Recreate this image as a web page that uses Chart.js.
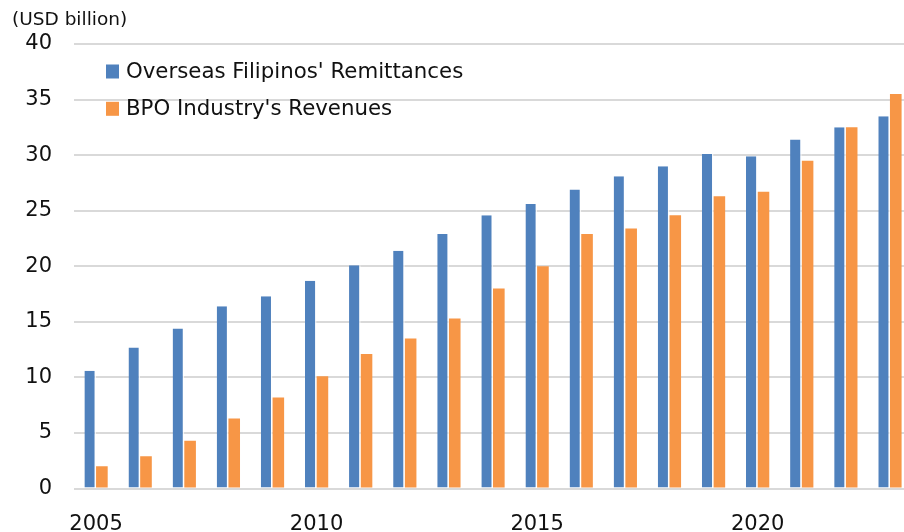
<!DOCTYPE html>
<html>
<head>
<meta charset="utf-8">
<script src="https://cdn.jsdelivr.net/npm/chart.js@4.4.1/dist/chart.umd.min.js"></script>
<style>
  html, body { margin: 0; padding: 0; overflow: hidden; background: #fff; width: 904px; height: 532px; }
  #wrap { position: absolute; left: 0; top: 0; width: 920px; height: 532px; }
</style>
</head>
<body>
<div id="wrap"><canvas id="c" width="920" height="532"></canvas></div>
<script>
const years = ['2005','2006','2007','2008','2009','2010','2011','2012','2013','2014','2015','2016','2017','2018','2019','2020','2021','2022','2023'];
const shownYearLabels = ['2005','2010','2015','2020'];
const remittances = [10.6, 12.7, 14.4, 16.4, 17.3, 18.7, 20.1, 21.4, 22.9, 24.6, 25.6, 26.9, 28.1, 29.0, 30.1, 29.9, 31.4, 32.5, 33.5];
const bpoRevenues = [2.0, 2.9, 4.3, 6.3, 8.2, 10.1, 12.1, 13.5, 15.3, 18.0, 20.0, 22.9, 23.4, 24.6, 26.3, 26.7, 29.5, 32.5, 35.5];
const yTicks = [0, 5, 10, 15, 20, 25, 30, 35, 40];
const seriesNames = ["Overseas Filipinos' Remittances", "BPO Industry's Revenues"];
const unitLabel = '(USD billion)';

const FONT = "'DejaVu Sans', Verdana, sans-serif";

const legendPlugin = {
  id: 'insideLegend',
  afterDraw(chart) {
    const ctx = chart.ctx;
    ctx.save();
    ctx.font = '21.3px ' + FONT;
    ctx.textBaseline = 'middle';
    ctx.textAlign = 'left';
    const rows = [71.5, 108.8];
    chart.data.datasets.forEach((ds, i) => {
      const y = rows[i];
      ctx.fillStyle = ds.backgroundColor;
      ctx.fillRect(106, y - 7, 13, 14);
      ctx.fillStyle = '#111';
      ctx.fillText(ds.label, 126, y + 1);
    });
    ctx.restore();
  }
};

new Chart(document.getElementById('c'), {
  type: 'bar',
  data: {
    labels: years,
    datasets: [
      { label: seriesNames[0], data: remittances, backgroundColor: '#4F81BD', borderColor: 'rgba(255,255,255,0.75)', borderWidth: {top:0, left:0, right:1.5, bottom:0}, borderSkipped: 'bottom' },
      { label: seriesNames[1], data: bpoRevenues, backgroundColor: '#F79646', borderWidth: 0 }
    ]
  },
  options: {
    responsive: false,
    animation: false,
    devicePixelRatio: 1,
    layout: { padding: { left: 12, right: 8, top: 0, bottom: 0 } },
    datasets: { bar: { categoryPercentage: 0.528, barPercentage: 1.0 } },
    plugins: {
      legend: { display: false },
      tooltip: { enabled: false },
      title: {
        display: true,
        text: unitLabel,
        align: 'start',
        color: '#111',
        font: { family: FONT, size: 18.5, weight: 'normal', lineHeight: 1.2 },
        padding: { top: 9, bottom: 12.8 }
      }
    },
    scales: {
      x: {
        grid: { display: false },
        border: { display: false },
        ticks: {
          autoSkip: false,
          maxRotation: 0,
          minRotation: 0,
          padding: 15,
          color: '#111',
          font: { family: FONT, size: 21 },
          callback: function(v, i) { const l = years[i]; return shownYearLabels.includes(l) ? l : ''; }
        },
        afterFit(scale) { scale.height = 43.4; }
      },
      y: {
        min: 0, max: 40,
        afterBuildTicks(scale) { scale.ticks = yTicks.map(v => ({ value: v })); },
        grid: { color: '#D9D9D9', lineWidth: 2, drawTicks: false },
        border: { display: false },
        ticks: {
          padding: 22,
          color: '#111',
          font: { family: FONT, size: 21 }
        },
        afterFit(scale) { scale.width = 62; }
      }
    }
  },
  plugins: [legendPlugin]
});
</script>
</body>
</html>
